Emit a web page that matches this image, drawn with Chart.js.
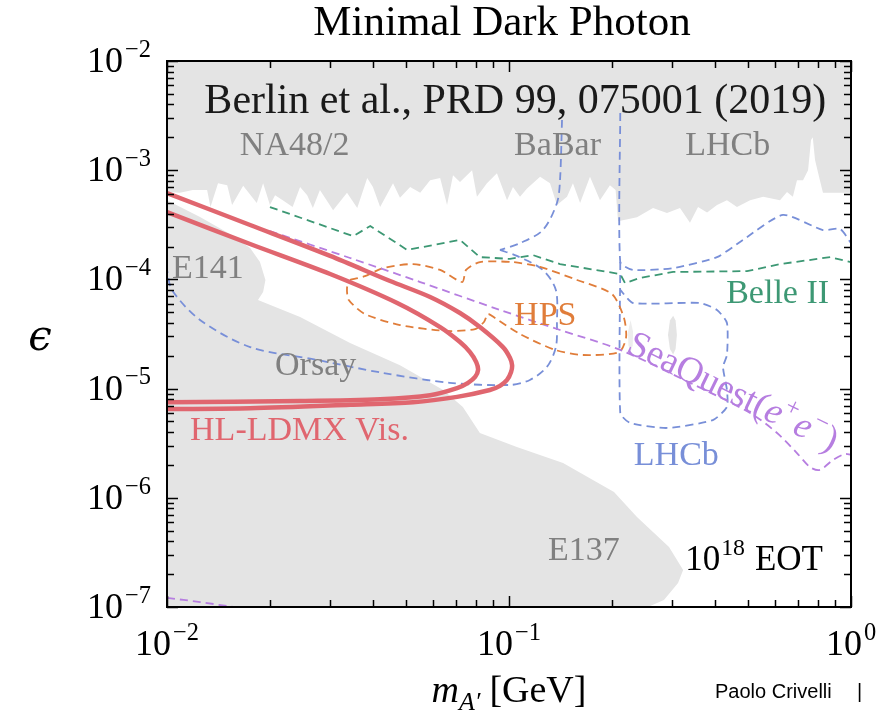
<!DOCTYPE html>
<html>
<head>
<meta charset="utf-8">
<script src="https://cdn.jsdelivr.net/npm/chart.js@4/dist/chart.umd.min.js"></script>
<style>
  html, body { margin: 0; padding: 0; background: #ffffff; }
  #wrap { position: relative; width: 883px; height: 714px; }
</style>
</head>
<body>
<div id="wrap"><canvas id="c" width="883" height="714"></canvas></div>
<script>
// ---- axis ticks -------------------------------------------------------
const massTicks = [0.01, 0.1, 1];
const massTickExp = ['\u22122', '\u22121', '0'];
const epsTicks = [1e-7, 1e-6, 1e-5, 1e-4, 1e-3, 1e-2];
const epsTickExp = ['\u22127', '\u22126', '\u22125', '\u22124', '\u22123', '\u22122'];

// ---- existing limits: NA48/2, BaBar, LHCb (upper shaded band) -------------
const topLimitMass = [0.0100,0.0109,0.0119,0.0131,0.0134,0.0141,0.0150,0.0155,0.0167,0.0183,0.0191,0.0200,0.0207,0.0218,0.0233,0.0245,0.0257,0.0267,0.0280,0.0306,0.0336,0.0360,0.0385,0.0400,0.0420,0.0458,0.0480,0.0514,0.0550,0.0588,0.0629,0.0659,0.0686,0.0719,0.0780,0.0806,0.0862,0.0922,0.0987,0.1027,0.1077,0.1129,0.1233,0.1318,0.1381,0.1478,0.1538,0.1614,0.1725,0.1845,0.1973,0.2050,0.2084,0.2367,0.2637,0.2897,0.3162,0.3382,0.3570,0.3795,0.4057,0.4338,0.4641,0.5070,0.5534,0.620,0.650,0.676,0.695,0.724,0.749,0.764,0.773,0.785,0.811,0.828,0.929,1.0];
const topLimitEps = [6.3e-4,6.2e-4,6.6e-4,6.6e-4,4.6e-4,7.6e-4,7.3e-4,4.8e-4,7.2e-4,5.0e-4,7.6e-4,4.8e-4,5.9e-4,5.3e-4,4.6e-4,7.0e-4,5.9e-4,4.5e-4,6.6e-4,4.3e-4,6.2e-4,4.5e-4,8.5e-4,7.0e-4,4.6e-4,7.6e-4,5.6e-4,7.0e-4,6.2e-4,8.1e-4,8.5e-4,4.8e-4,9.0e-4,7.8e-4,1.0e-3,5.7e-4,7.6e-4,9.4e-4,5.3e-4,7.0e-4,5.7e-4,6.8e-4,8.7e-4,7.6e-4,4.8e-4,5.7e-4,7.6e-4,5.0e-4,8.7e-4,5.3e-4,7.3e-4,6.6e-4,3.4e-4,3.7e-4,4.5e-4,4.06e-4,4.5e-4,3.3e-4,4.6e-4,4.1e-4,4.8e-4,5.3e-4,4.6e-4,5.3e-4,5.7e-4,5.3e-4,6.3e-4,5.7e-4,8.1e-4,8.1e-4,1.0e-3,1.89e-3,2.0e-3,1.24e-3,8.1e-4,6.2e-4,6.2e-4,6.2e-4];

// ---- beam dump limits: E141, Orsay, E137 (lower shaded region) ----------
const dumpMass = [0.0100,0.01249,0.01528,0.0175,0.0187,0.0194,0.0191,0.01845,0.0245,0.0343,0.0480,0.0642,0.0733,0.0822,0.1054,0.1439,0.2028,0.2367,0.2937,0.3230,0.3121,0.2838,0.2548,0.0100,0.0100];
const dumpEps  = [5.3e-4,3.72e-4,2.61e-4,1.94e-4,1.44e-4,9.88e-5,7.67e-5,6.48e-5,4.53e-5,2.62e-5,1.64e-5,9.7e-6,6.8e-6,3.92e-6,2.92e-6,2.08e-6,1.13e-6,6.67e-7,3.54e-7,2.18e-7,1.66e-7,1.16e-7,1.0e-7,1.0e-7,5.3e-4];

// small LHCb islands
const islandAMass = [0.2917,0.2955,0.3020,0.3070,0.3097,0.3070,0.3020,0.2955,0.2917];
const islandAEps  = [3.1e-5,4.2e-5,4.65e-5,4.2e-5,3.1e-5,2.3e-5,2.05e-5,2.3e-5,3.1e-5];
const islandBMass = [0.2267,0.2306,0.2300,0.2267,0.2235,0.2228,0.2267];
const islandBEps  = [4.25e-5,3.3e-5,2.5e-5,2.16e-5,2.5e-5,3.3e-5,4.25e-5];

// ---- HL-LDMX visible reach (two contours) ------------------------------
const ldmxOuterMass = [0.0100,0.0175,0.0300,0.0449,0.0588,0.0719,0.0822,0.0960,0.1007,0.1021,0.1014,0.0987,0.0941,0.0879,0.0705,0.0524,0.0343,0.0175,0.0100];
const ldmxOuterEps  = [6.18e-4,3.15e-4,1.64e-4,9.66e-5,6.90e-5,4.92e-5,3.66e-5,2.40e-5,1.91e-5,1.64e-5,1.42e-5,1.20e-5,1.06e-5,9.7e-6,8.4e-6,7.5e-6,7.1e-6,6.6e-6,6.5e-6];
const ldmxInnerMass = [0.0100,0.0175,0.0300,0.0471,0.0629,0.0719,0.0769,0.0802,0.0812,0.0796,0.0759,0.0705,0.0588,0.0420,0.0245,0.0100];
const ldmxInnerEps  = [4.14e-4,2.11e-4,1.12e-4,6.08e-5,3.66e-5,2.67e-5,2.16e-5,1.75e-5,1.48e-5,1.28e-5,1.13e-5,1.01e-5,8.7e-6,8.0e-6,7.7e-6,7.5e-6];

// ---- SeaQuest (e+e-) ---------------------------------------------------
const seaquestMass = [0.0200,0.0343,0.0550,0.0941,0.1410,0.2115,0.3382,0.507,0.608,0.695,0.759,0.811,0.885,0.960,1.0];
const seaquestEps  = [2.77e-4,1.57e-4,9.46e-5,5.25e-5,3.44e-5,2.26e-5,1.13e-5,5.98e-6,3.92e-6,2.57e-6,1.91e-6,1.80e-6,2.22e-6,2.52e-6,2.47e-6];
const seaquestLowMass = [0.0100,0.0125,0.0156];
const seaquestLowEps  = [1.21e-7,1.11e-7,1.0e-7];

// ---- Belle II -----------------------------------------------------------
const belleMass = [0.0200,0.0350,0.0393,0.0504,0.0719,0.0822,0.1007,0.1175,0.1410,0.2115,0.2184,0.2415,0.3019,0.4966,0.620,0.869,1.0];
const belleEps  = [4.60e-4,2.49e-4,3.08e-4,1.86e-4,2.30e-4,1.60e-4,1.54e-4,1.67e-4,1.38e-4,1.12e-4,9.26e-5,1.03e-4,1.17e-4,1.19e-4,1.38e-4,1.60e-4,1.44e-4];

// ---- HPS ----------------------------------------------------------------
const hpsMass = [0.0343,0.0379,0.0429,0.0524,0.0629,0.0730,0.0749,0.0822,0.1027,0.1233,0.1581,0.2000,0.2169,0.2199,0.2098,0.1644,0.1365,0.1077,0.0910,0.0868,0.0845,0.0796,0.0659,0.0480,0.0379,0.0340,0.0336,0.0343];
const hpsEps  = [9.88e-5,1.07e-4,1.27e-4,1.38e-4,1.22e-4,9.46e-5,1.22e-4,1.44e-4,1.44e-4,1.30e-4,9.88e-5,7.35e-5,4.43e-5,2.91e-5,2.16e-5,2.03e-5,2.26e-5,3.16e-5,4.43e-5,4.82e-5,4.07e-5,3.51e-5,3.37e-5,3.82e-5,4.82e-5,6.48e-5,8.34e-5,9.88e-5];

// ---- LHCb projections ---------------------------------------------------
const lhcbUpperMass = [0.1429,0.1410,0.1381,0.1256,0.1077,0.0941];
const lhcbUpperEps  = [2.88e-3,8.13e-4,5.01e-4,2.83e-4,2.15e-4,1.86e-4];
const lhcbLowMass = [0.0941,0.1054,0.1256,0.1371,0.1381,0.1371,0.1291,0.1151,0.1007,0.0671,0.0429,0.0275,0.0175,0.01249,0.01034,0.0100];
const lhcbLowEps  = [1.86e-4,1.64e-4,1.22e-4,8.0e-5,3.99e-5,2.40e-5,1.58e-5,1.20e-5,1.08e-5,1.13e-5,1.39e-5,1.83e-5,2.40e-5,4.25e-5,8.0e-5,1.22e-4];
const lhcbHighMass = [0.2115,0.2115,0.2306,0.3019,0.4057,0.4831,0.6325,0.828,0.929,1.0];
const lhcbHighEps  = [3.34e-3,1.44e-4,1.22e-4,1.27e-4,1.60e-4,2.30e-4,3.89e-4,2.83e-4,2.90e-4,2.15e-4];
const lhcbBoxMass = [0.2115,0.2115,0.2259,0.2897,0.3945,0.4338,0.4338,0.4225,0.4338,0.4338,0.4057,0.3614,0.2306,0.2115];
const lhcbBoxEps  = [1.44e-4,5.98e-6,4.85e-6,4.36e-6,5.15e-6,6.79e-6,9.70e-6,1.58e-5,2.03e-5,3.99e-5,5.25e-5,6.08e-5,6.08e-5,8.0e-5];

// ---- colours ------------------------------------------------------------
const GREY_FILL = '#e4e4e4';
const GREY_TEXT = '#808080';
const RED = '#e0666f';
const PURPLE = '#b67ee0';
const GREEN = '#3d9874';
const ORANGE = '#e07d3a';
const BLUE = '#788fd8';

const SERIF = '"Liberation Serif", "Times New Roman", serif';

function pts(m, e) { return m.map((v, i) => ({ x: v, y: e[i] })); }

function fillSet(m, e, mode, color, order) {
  return { data: pts(m, e), showLine: true, fill: mode, backgroundColor: color,
           borderWidth: 0, borderColor: 'rgba(0,0,0,0)', pointRadius: 0, tension: 0, order };
}
function dashSet(m, e, color, tension, order) {
  return { data: pts(m, e), showLine: true, fill: false, borderColor: color, borderWidth: 1.8,
           borderDash: [8, 5], pointRadius: 0, tension, order };
}
function solidSet(m, e, color, order) {
  return { data: pts(m, e), showLine: true, fill: false, borderColor: color, borderWidth: 4.5,
           pointRadius: 0, tension: 0.3, order, borderCapStyle: 'round', borderJoinStyle: 'round' };
}

// ---- text annotations inside the frame -------------------------------------
const regionLabels = [
  { text: 'NA48/2', m: 0.01633, e: 1.38e-3, color: GREY_TEXT },
  { text: 'BaBar',  m: 0.1035,  e: 1.38e-3, color: GREY_TEXT },
  { text: 'LHCb',   m: 0.3274,  e: 1.38e-3, color: GREY_TEXT },
  { text: 'E141',   m: 0.01034, e: 1.03e-4, color: GREY_TEXT },
  { text: 'Orsay',  m: 0.0207,  e: 1.33e-5, color: GREY_TEXT },
  { text: 'E137',   m: 0.1300,  e: 2.69e-7, color: GREY_TEXT },
  { text: 'HL-LDMX Vis.', m: 0.01168, e: 3.38e-6, color: RED },
  { text: 'HPS',    m: 0.1035,  e: 3.82e-5, color: ORANGE },
  { text: 'Belle II', m: 0.4315, e: 6.08e-5, color: GREEN },
  { text: 'LHCb',   m: 0.2317,  e: 2.0e-6,  color: BLUE }
];

function fontOf(size, italic, family) {
  return (italic ? 'italic ' : '') + size + 'px ' + (family || SERIF);
}
function richWidth(ctx, parts, size) {
  let w = 0;
  for (const p of parts) {
    ctx.font = fontOf((p.sup || p.sub) ? size * 0.68 : size, p.it, p.fam);
    w += ctx.measureText(p.t).width + (p.gap || 0);
  }
  return w;
}
function drawRich(ctx, parts, x, y, size, align) {
  const w = richWidth(ctx, parts, size);
  let cx = align === 'center' ? x - w / 2 : align === 'right' ? x - w : x;
  ctx.textAlign = 'left';
  ctx.textBaseline = 'alphabetic';
  for (const p of parts) {
    const s = (p.sup || p.sub) ? size * 0.68 : size;
    ctx.font = fontOf(s, p.it, p.fam);
    const dy = p.sup ? -size * 0.42 : p.sub ? size * 0.22 : 0;
    ctx.fillText(p.t, cx, y + dy);
    cx += ctx.measureText(p.t).width + (p.gap || 0);
  }
}

const decorPlugin = {
  id: 'decor',
  afterDatasetsDraw(chart) {
    const { ctx, chartArea: a, scales: { x, y } } = chart;
    ctx.save();

    // reference banner
    ctx.fillStyle = '#1a1a1a';
    ctx.font = fontOf(42);
    ctx.textAlign = 'center';
    ctx.textBaseline = 'alphabetic';
    ctx.fillText('Berlin et al., PRD 99, 075001 (2019)', x.getPixelForValue(0.1043), y.getPixelForValue(3.34e-3));

    // region / curve labels
    for (const l of regionLabels) {
      ctx.fillStyle = l.color;
      ctx.font = fontOf(34);
      ctx.textAlign = 'left';
      ctx.fillText(l.text, x.getPixelForValue(l.m), y.getPixelForValue(l.e));
    }

    // exposure
    ctx.fillStyle = '#000';
    drawRich(ctx, [{ t: '10', gap: 1 }, { t: '18', sup: true, gap: 10 }, { t: 'EOT' }],
      x.getPixelForValue(0.3274), y.getPixelForValue(2.18e-7), 35, 'left');

    // rotated SeaQuest label
    ctx.save();
    ctx.translate(x.getPixelForValue(0.4519), y.getPixelForValue(9.3e-6));
    ctx.rotate(26 * Math.PI / 180);
    ctx.fillStyle = PURPLE;
    drawRich(ctx, [{ t: 'SeaQuest(' }, { t: 'e', it: true }, { t: '+', sup: true, gap: 2 },
                   { t: 'e', it: true }, { t: '\u2212', sup: true, gap: 2 }, { t: ')' }], 0, 11, 37, 'center');
    ctx.restore();

    // frame
    ctx.strokeStyle = '#000';
    ctx.lineWidth = 2;
    ctx.strokeRect(a.left, a.top, a.right - a.left, a.bottom - a.top);

    // ticks (inward, on all four sides)
    ctx.lineWidth = 1.5;
    ctx.beginPath();
    const MAJ = 11, MIN = 7;
    for (let d = -2; d <= 0; d++) {
      for (let k = 1; k <= 9; k++) {
        const v = k * Math.pow(10, d);
        if (v > 1.0001) break;
        const px = Math.round(x.getPixelForValue(v)) + 0.5;
        const len = k === 1 ? MAJ : MIN;
        ctx.moveTo(px, a.bottom); ctx.lineTo(px, a.bottom - len);
        ctx.moveTo(px, a.top); ctx.lineTo(px, a.top + len);
      }
    }
    for (let d = -7; d <= -2; d++) {
      for (let k = 1; k <= 9; k++) {
        const v = k * Math.pow(10, d);
        if (v > 1.0001e-2) break;
        const py = Math.round(y.getPixelForValue(v)) + 0.5;
        const len = k === 1 ? MAJ : MIN;
        ctx.moveTo(a.left, py); ctx.lineTo(a.left + len, py);
        ctx.moveTo(a.right, py); ctx.lineTo(a.right - len, py);
      }
    }
    ctx.stroke();

    // tick labels
    ctx.fillStyle = '#000';
    massTicks.forEach((v, i) => {
      drawRich(ctx, [{ t: '10', gap: 2 }, { t: massTickExp[i], sup: true }],
        x.getPixelForValue(v), a.bottom + 48, 36, 'center');
    });
    epsTicks.forEach((v, i) => {
      drawRich(ctx, [{ t: '10', gap: 2 }, { t: epsTickExp[i], sup: true }],
        a.left - 16, y.getPixelForValue(v) + 11, 36, 'right');
    });

    // axis titles
    drawRich(ctx, [{ t: 'm', it: true }, { t: 'A\u2032', it: true, sub: true, gap: 9 }, { t: '[GeV]' }],
      (a.left + a.right) / 2, 702, 38, 'center');
    ctx.font = 'italic 42px "DejaVu Serif", serif';
    ctx.textAlign = 'center';
    ctx.textBaseline = 'alphabetic';
    ctx.fillText('\u03F5', 40, 350);

    // chart title
    ctx.font = fontOf(43);
    ctx.fillText('Minimal Dark Photon', 502, 35);

    // credit
    ctx.font = '20px "Liberation Sans", Arial, sans-serif';
    ctx.textAlign = 'left';
    ctx.fillText('Paolo Crivelli', 715, 698);
    ctx.fillText('|', 857, 698);

    ctx.restore();
  }
};

new Chart(document.getElementById('c'), {
  type: 'scatter',
  data: {
    datasets: [
      fillSet(topLimitMass, topLimitEps, 'end', GREY_FILL, 20),
      fillSet(dumpMass, dumpEps, 'shape', GREY_FILL, 19),
      fillSet(islandAMass, islandAEps, 'shape', GREY_FILL, 18),
      fillSet(islandBMass, islandBEps, 'shape', '#ededed', 18),
      dashSet(lhcbUpperMass, lhcbUpperEps, BLUE, 0.3, 10),
      dashSet(lhcbLowMass, lhcbLowEps, BLUE, 0.3, 10),
      dashSet(lhcbHighMass, lhcbHighEps, BLUE, 0.2, 10),
      dashSet(lhcbBoxMass, lhcbBoxEps, BLUE, 0.2, 10),
      dashSet(belleMass, belleEps, GREEN, 0, 9),
      dashSet(hpsMass, hpsEps, ORANGE, 0.25, 8),
      dashSet(seaquestMass, seaquestEps, PURPLE, 0.3, 7),
      dashSet(seaquestLowMass, seaquestLowEps, PURPLE, 0.3, 7),
      solidSet(ldmxOuterMass, ldmxOuterEps, RED, 2),
      solidSet(ldmxInnerMass, ldmxInnerEps, RED, 1)
    ]
  },
  options: {
    responsive: false,
    animation: false,
    devicePixelRatio: 1,
    layout: { padding: { left: 167, top: 61, right: 32, bottom: 107 } },
    plugins: { legend: { display: false }, tooltip: { enabled: false }, title: { display: false } },
    scales: {
      x: { type: 'logarithmic', min: 0.01, max: 1, display: false },
      y: { type: 'logarithmic', min: 1e-7, max: 1e-2, display: false }
    }
  },
  plugins: [decorPlugin]
});
</script>
</body>
</html>
